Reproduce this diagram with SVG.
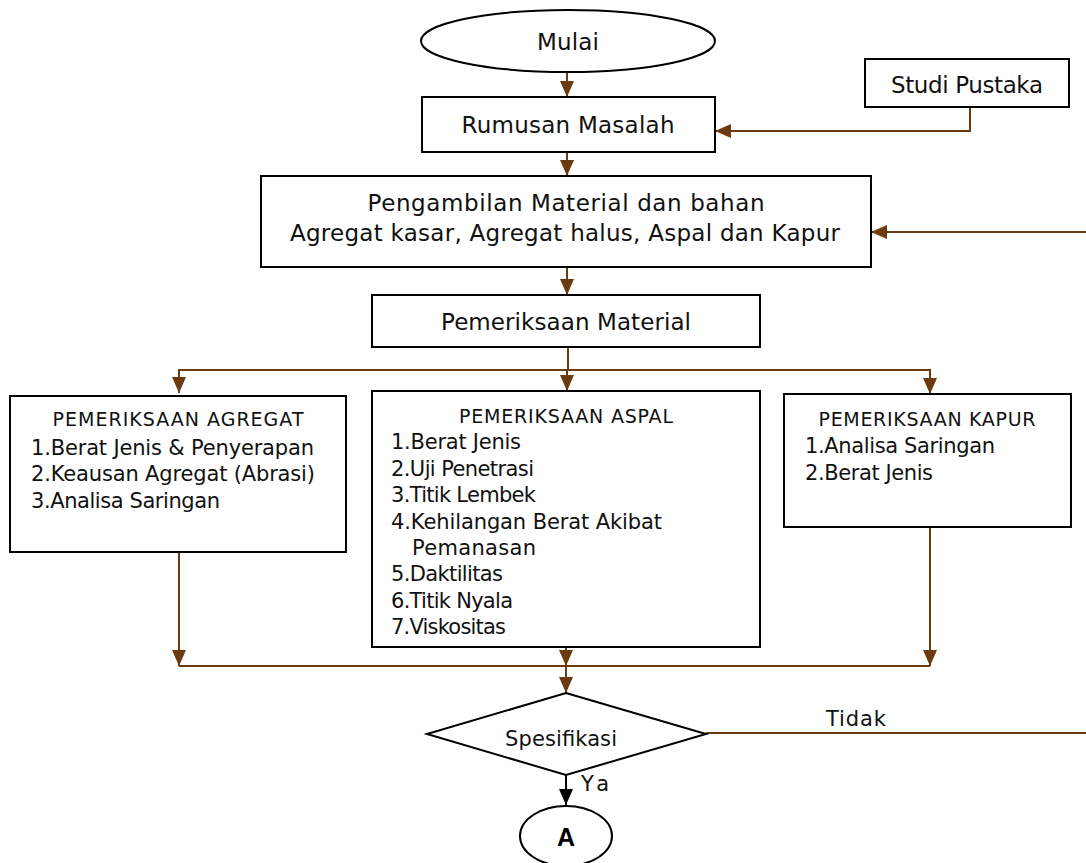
<svg xmlns="http://www.w3.org/2000/svg" width="1086" height="863" viewBox="0 0 1086 863">
<style>
.box{fill:#fff;stroke:#000;stroke-width:2}
.t{font-family:"DejaVu Sans","Liberation Sans",sans-serif;fill:#111}
.m{font-size:23px}
.i{font-size:21px}
.h{font-size:19px}
.c{stroke:#6B3A0E;stroke-width:2;fill:none}
.k{stroke:#000;stroke-width:2;fill:none}
</style>
<defs>
<marker id="ab" markerUnits="userSpaceOnUse" markerWidth="16" markerHeight="14" refX="16" refY="7" orient="auto" viewBox="0 0 16 14"><path d="M0,0 L16,7 L0,14 z" fill="#6B3A0E"/></marker>
<marker id="ak" markerUnits="userSpaceOnUse" markerWidth="16" markerHeight="14" refX="16" refY="7" orient="auto" viewBox="0 0 16 14"><path d="M0,0 L16,7 L0,14 z" fill="#000"/></marker>
</defs>
<g id="connectors">
<path class="c" d="M567,72 V97" marker-end="url(#ab)"/>
<path class="c" d="M567,152 V176" marker-end="url(#ab)"/>
<path class="c" d="M970,107 V131 H715" marker-end="url(#ab)"/>
<path class="c" d="M567,267 V295" marker-end="url(#ab)"/>
<path class="c" d="M568,347 V370"/>
<path class="c" d="M567,370 H179 V393" marker-end="url(#ab)"/>
<path class="c" d="M567,370 H930 V394" marker-end="url(#ab)"/>
<path class="c" d="M567,370 V391" marker-end="url(#ab)"/>
<path class="c" d="M179,552 V666" marker-end="url(#ab)"/>
<path class="c" d="M566,647 V666" marker-end="url(#ab)"/>
<path class="c" d="M930,527 V666" marker-end="url(#ab)"/>
<path class="c" d="M179,666 H930"/>
<path class="c" d="M566,666 V693" marker-end="url(#ab)"/>
<path class="c" d="M706,733 H1089 V232 H871" marker-end="url(#ab)"/>
<path class="k" d="M566,775 V805" marker-end="url(#ak)"/>
<text class="t" x="826" y="726" font-size="21" textLength="60">Tidak</text>
<text class="t" x="581" y="791" font-size="21" textLength="28">Ya</text>
</g>
<g id="mulai">
<ellipse class="box" cx="568" cy="41" rx="147" ry="31"/>
<text class="t m" x="568" y="50" text-anchor="middle" textLength="62">Mulai</text>
</g>
<g id="rumusan">
<rect class="box" x="422" y="97" width="293" height="55"/>
<text class="t m" x="568" y="133" text-anchor="middle" textLength="213">Rumusan Masalah</text>
</g>
<g id="studi">
<rect class="box" x="865" y="59" width="204" height="48"/>
<text class="t m" x="967" y="93" text-anchor="middle" textLength="152">Studi Pustaka</text>
</g>
<g id="pengambilan">
<rect class="box" x="261" y="176" width="610" height="91"/>
<text class="t m" x="566" y="211" text-anchor="middle" textLength="397">Pengambilan Material dan bahan</text>
<text class="t m" x="565" y="241" text-anchor="middle" textLength="550">Agregat kasar, Agregat halus, Aspal dan Kapur</text>
</g>
<g id="material">
<rect class="box" x="372" y="295" width="388" height="52"/>
<text class="t m" x="566" y="330" text-anchor="middle" textLength="250">Pemeriksaan Material</text>
</g>
<g id="agregat">
<rect class="box" x="10" y="396" width="336" height="156"/>
<text class="t h" x="178" y="426" text-anchor="middle" textLength="251">PEMERIKSAAN AGREGAT</text>
<text class="t i" x="31" y="455" textLength="283">1.Berat Jenis &amp; Penyerapan</text>
<text class="t i" x="31" y="481" textLength="284">2.Keausan Agregat (Abrasi)</text>
<text class="t i" x="31" y="508" textLength="189">3.Analisa Saringan</text>
</g>
<g id="aspal">
<rect class="box" x="372" y="391" width="388" height="256"/>
<text class="t h" x="566" y="423" text-anchor="middle" textLength="214">PEMERIKSAAN ASPAL</text>
<text class="t i" x="391" y="449" textLength="130">1.Berat Jenis</text>
<text class="t i" x="391" y="476" textLength="143">2.Uji Penetrasi</text>
<text class="t i" x="391" y="502" textLength="145">3.Titik Lembek</text>
<text class="t i" x="391" y="529" textLength="271">4.Kehilangan Berat Akibat</text>
<text class="t i" x="412" y="555" textLength="124">Pemanasan</text>
<text class="t i" x="391" y="581" textLength="112">5.Daktilitas</text>
<text class="t i" x="391" y="608" textLength="122">6.Titik Nyala</text>
<text class="t i" x="391" y="634" textLength="115">7.Viskositas</text>
</g>
<g id="kapur">
<rect class="box" x="784" y="394" width="287" height="133"/>
<text class="t h" x="927" y="426" text-anchor="middle" textLength="217">PEMERIKSAAN KAPUR</text>
<text class="t i" x="805" y="453" textLength="190">1.Analisa Saringan</text>
<text class="t i" x="805" y="480" textLength="128">2.Berat Jenis</text>
</g>
<g id="spesifikasi">
<polygon class="box" points="566,693 706,734 566,775 427,734"/>
<text class="t" x="561" y="746" font-size="21" text-anchor="middle" textLength="112">Spesifikasi</text>
</g>
<g id="a">
<ellipse class="box" cx="566" cy="836" rx="46" ry="30"/>
<text x="566" y="846" font-size="25" font-weight="bold" text-anchor="middle" font-family="Liberation Sans, Arial, sans-serif">A</text>
</g>
</svg>
